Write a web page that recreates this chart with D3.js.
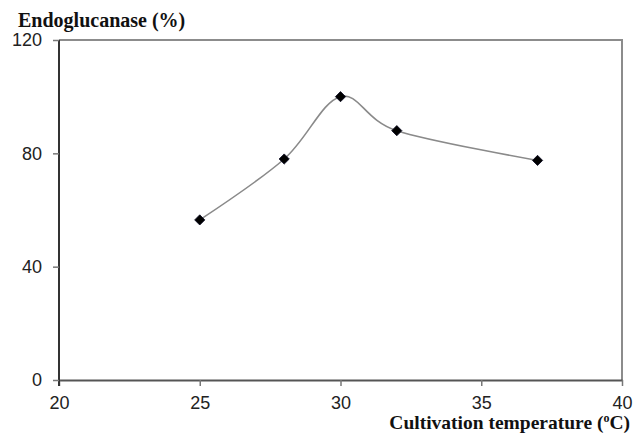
<!DOCTYPE html>
<html>
<head>
<meta charset="utf-8">
<script src="https://cdn.jsdelivr.net/npm/d3@7"></script>
<style>
  html, body { margin: 0; padding: 0; background: #fff; }
  svg { display: block; }
</style>
</head>
<body>
<svg id="chart" width="637" height="437"></svg>
<script>
// Cultivation temperature (°C) and relative endoglucanase activity (%)
const temperatures = [25, 28, 30, 32, 37];
const activity = [56.5, 78, 100, 88, 77.5];
const xTicks = [20, 25, 30, 35, 40];
const yTicks = [0, 40, 80, 120];

const svg = d3.select("#chart");
const plotLeft = 59, plotRight = 622, plotTop = 40, plotBottom = 380;

const x = d3.scaleLinear().domain([20, 40]).range([plotLeft, plotRight]);
const y = d3.scaleLinear().domain([0, 120]).range([plotBottom, plotTop]);

// plot frame: top and right edges
svg.append("path")
  .attr("d", `M${plotLeft},${plotTop}H${plotRight}V${plotBottom}`)
  .attr("fill", "none")
  .attr("stroke", "#8c8c8c")
  .attr("stroke-width", 2);

// x axis
const xAxis = svg.append("g")
  .attr("transform", `translate(0,${plotBottom})`)
  .call(d3.axisBottom(x).tickValues(xTicks).tickSize(6).tickSizeOuter(0).tickFormat(d3.format("d")));
xAxis.select(".domain").attr("stroke", "#555").attr("stroke-width", 2);
xAxis.selectAll(".tick line").attr("stroke", "#777").attr("stroke-width", 1.5);
xAxis.selectAll(".tick text")
  .attr("font-family", "Liberation Sans, Arial, sans-serif")
  .attr("font-size", 18)
  .attr("fill", "#222")
  .attr("dy", "0.71em")
  .attr("y", 16);

// y axis
const yAxis = svg.append("g")
  .attr("transform", `translate(${plotLeft},0)`)
  .call(d3.axisLeft(y).tickValues(yTicks).tickSize(6).tickSizeOuter(0).tickFormat(d3.format("d")));
yAxis.select(".domain").attr("stroke", "#333").attr("stroke-width", 2)
  .attr("d", `M0,${plotTop}V${plotBottom + 6}`);
yAxis.selectAll(".tick line").attr("stroke", "#777").attr("stroke-width", 1.5);
yAxis.selectAll(".tick text")
  .attr("font-family", "Liberation Sans, Arial, sans-serif")
  .attr("font-size", 18)
  .attr("fill", "#222")
  .attr("x", -17);

// smoothed curve through the measurements
const pts = temperatures.map((t, i) => [t, activity[i]]);
svg.append("path")
  .datum(pts)
  .attr("fill", "none")
  .attr("stroke", "#8a8a8a")
  .attr("stroke-width", 1.6)
  .attr("d", d3.line().x(d => x(d[0])).y(d => y(d[1])).curve(d3.curveCatmullRom.alpha(0)));

// diamond markers
svg.append("g").selectAll("path")
  .data(pts)
  .join("path")
  .attr("transform", d => `translate(${x(d[0])},${y(d[1])}) rotate(45)`)
  .attr("d", "M-3.6,-3.6H3.6V3.6H-3.6Z")
  .attr("fill", "#000")
  .attr("stroke", "#0a0a20")
  .attr("stroke-width", 0.8);

// axis titles
svg.append("text")
  .attr("x", 18).attr("y", 27)
  .attr("font-family", "Liberation Serif, Times New Roman, serif")
  .attr("font-weight", "bold")
  .attr("font-size", 20)
  .attr("fill", "#111")
  .text("Endoglucanase (%)");

const xt = svg.append("text")
  .attr("x", 630).attr("y", 429)
  .attr("text-anchor", "end")
  .attr("font-family", "Liberation Serif, Times New Roman, serif")
  .attr("font-weight", "bold")
  .attr("font-size", 19.5)
  .attr("fill", "#111");
xt.append("tspan").text("Cultivation temperature (");
xt.append("tspan").attr("font-size", 12).attr("dy", -7).text("o");
xt.append("tspan").attr("dy", 7).text("C)");
</script>
</body>
</html>
